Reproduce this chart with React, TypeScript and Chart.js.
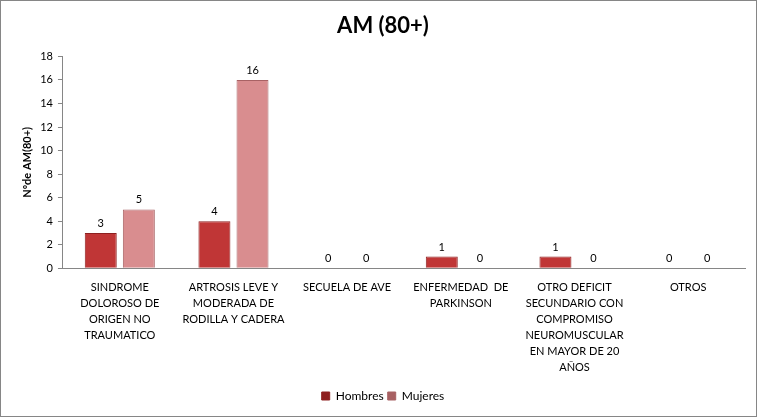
import React, { useEffect, useRef } from "react";
import { Chart, registerables } from "chart.js";

Chart.register(...registerables);

const categories: string[][] = [
  ["SINDROME", "DOLOROSO DE", "ORIGEN NO", "TRAUMATICO"],
  ["ARTROSIS LEVE Y", "MODERADA DE", "RODILLA Y CADERA"],
  ["SECUELA DE AVE"],
  ["ENFERMEDAD  DE", "PARKINSON"],
  ["OTRO DEFICIT", "SECUNDARIO CON", "COMPROMISO", "NEUROMUSCULAR", "EN MAYOR DE 20", "AÑOS"],
  ["OTROS"],
];
const hombres = [3, 4, 0, 1, 1, 0];
const mujeres = [5, 16, 0, 0, 0, 0];
const seriesNames = ["Hombres", "Mujeres"];
const titleText = "AM (80+)";
const yTitle = "Nºde AM(80+)";

const FONT = "Lato, 'Open Sans', sans-serif";

const valueLabels = {
  id: "valueLabels",
  afterDatasetsDraw(chart: any) {
    const ctx = chart.ctx;
    ctx.save();
    ctx.font = `11px ${FONT}`;
    ctx.fillStyle = "#000";
    ctx.textAlign = "center";
    ctx.textBaseline = "bottom";
    chart.data.datasets.forEach((ds: any, i: number) => {
      const meta = chart.getDatasetMeta(i);
      meta.data.forEach((bar: any, j: number) => {
        ctx.fillText(String(ds.data[j]), bar.x, bar.y - 4);
      });
    });
    ctx.restore();
  },
};

function gradientFill(c1: string, c2: string, c3: string) {
  return (context: any) => {
    const el = context.element;
    const ctx = context.chart.ctx;
    if (!el || !ctx || typeof el.x !== "number" || !isFinite(el.x)) return c2;
    const w = el.width || 32;
    const g = ctx.createLinearGradient(el.x - w / 2, 0, el.x + w / 2, 0);
    g.addColorStop(0, c1);
    g.addColorStop(0.15, c2);
    g.addColorStop(0.85, c2);
    g.addColorStop(1, c3);
    return g;
  };
}

export default function App() {
  const ref = useRef<HTMLCanvasElement | null>(null);
  useEffect(() => {
    document.body.style.margin = "0";
    const chart = new Chart(ref.current!, {
      type: "bar",
      data: {
        labels: categories,
        datasets: [
          {
            label: seriesNames[0],
            data: hombres,
            backgroundColor: gradientFill("#9a2222", "#c03636", "#8e1f1f"),
            borderColor: "#8e2020",
            borderWidth: 1,
            categoryPercentage: 0.67,
            barPercentage: 0.84,
          },
          {
            label: seriesNames[1],
            data: mujeres,
            backgroundColor: gradientFill("#b86a6c", "#d98d8f", "#a86062"),
            borderColor: "#a86264",
            borderWidth: 1,
            categoryPercentage: 0.67,
            barPercentage: 0.84,
          },
        ],
      },
      options: {
        animation: false,
        responsive: false,
        maintainAspectRatio: false,
        layout: { padding: { left: 20, right: 11, top: 4, bottom: 4 } },
        plugins: {
          title: {
            display: true,
            text: titleText,
            color: "#000",
            font: { family: FONT, size: 22, weight: "bold" },
            padding: { top: 8, bottom: 17 },
          },
          legend: {
            position: "bottom",
            labels: {
              boxWidth: 8,
              boxHeight: 8,
              color: "#000",
              font: { family: FONT, size: 12 },
              padding: 4,
            },
          },
          tooltip: { enabled: false },
        },
        scales: {
          x: {
            grid: { drawOnChartArea: false, drawTicks: false },
            border: { color: "#868686" },
            ticks: {
              color: "#000",
              font: { family: FONT, size: 11, lineHeight: 1.45 },
              maxRotation: 0,
              autoSkip: false,
              padding: 11,
            },
          },
          y: {
            min: 0,
            max: 18,
            grid: { drawOnChartArea: false, drawTicks: true, tickLength: 5, color: "#868686" },
            border: { color: "#868686" },
            ticks: {
              stepSize: 2,
              color: "#000",
              font: { family: FONT, size: 11 },
              padding: 5,
            },
            title: {
              display: true,
              text: yTitle,
              color: "#000",
              font: { family: FONT, size: 11, weight: "bold" },
              padding: { top: 0, bottom: 1 },
            },
          },
        },
      },
      plugins: [valueLabels],
    } as any);
    return () => chart.destroy();
  }, []);
  return (
    <div
      style={{
        width: 757,
        height: 417,
        boxSizing: "border-box",
        border: "1px solid #868686",
        background: "#fff",
      }}
    >
      <canvas ref={ref} width={755} height={415} style={{ display: "block" }} />
    </div>
  );
}
